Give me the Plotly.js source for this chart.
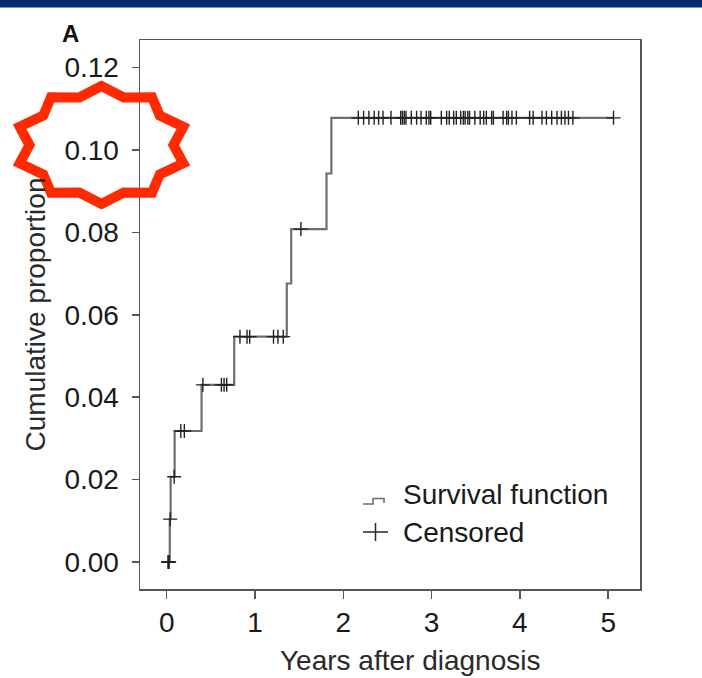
<!DOCTYPE html>
<html>
<head>
<meta charset="utf-8">
<script src="https://cdn.plot.ly/plotly-3.0.1.min.js"></script>
<style>
html,body{margin:0;padding:0;background:#fff;}
#chart{width:702px;height:678px;}
</style>
</head>
<body>
<div id="chart"></div>
<script>
// ---- data ----
var eventTimes = [0, 0.035, 0.045, 0.09, 0.395, 0.765, 1.36, 1.41, 1.81, 1.865, 5.06];
var cumProp    = [0, 0.0104, 0.0207, 0.0318, 0.043, 0.0547, 0.0676, 0.0808, 0.0943, 0.1078, 0.1078];
var censorTimes = [0.015, 0.022, 0.028, 0.04, 0.085, 0.16, 0.20,
  0.41, 0.62, 0.65, 0.68,
  0.83, 0.91, 0.94, 1.21, 1.26, 1.32,
  1.52,
  2.17, 2.23, 2.29, 2.35, 2.40, 2.45, 2.54, 2.65, 2.67, 2.69, 2.71, 2.77, 2.83, 2.88, 2.94, 2.97, 2.99,
  3.11, 3.17, 3.20, 3.25, 3.28, 3.33, 3.36, 3.38, 3.41, 3.43, 3.49, 3.55, 3.59, 3.62, 3.68, 3.70,
  3.81, 3.85, 3.87, 3.91, 3.96, 4.11, 4.15, 4.25, 4.30, 4.36, 4.42, 4.47, 4.51, 4.55, 4.60, 5.06];
var xTicks = [0, 1, 2, 3, 4, 5];
var yTicks = [0, 0.02, 0.04, 0.06, 0.08, 0.10, 0.12];
var legendLabels = ["Survival function", "Censored"];
var panelLabel = "A";
var xTitle = "Years after diagnosis";
var yTitle = "Cumulative proportion";

// censored marks sit on the step function
function stepValue(t){
  var v = cumProp[0];
  for (var i = 0; i < eventTimes.length; i++) { if (eventTimes[i] <= t) v = cumProp[i]; }
  return v;
}
var censorProps = censorTimes.map(stepValue);

// ---- geometry helpers (pixel -> paper) ----
var W = 702, H = 678, L = 140, R = 62, T = 40, B = 89;
var pw = W - L - R, ph = H - T - B;
function px(x){ return (x - L) / pw; }
function py(y){ return (H - B - y) / ph; }
function pathFrom(pts, close){
  var s = pts.map(function(p, i){ return (i ? 'L' : 'M') + px(p[0]).toFixed(4) + ',' + py(p[1]).toFixed(4); }).join(' ');
  return close ? s + ' Z' : s;
}

// star highlight around the 0.10 label
var starPts = [];
var cx = 101.5, cy = 145, rxo = 86, ryo = 59, rxi = 72, ryi = 50;
for (var k = 0; k < 20; k++) {
  var ang = Math.PI / 2 + k * Math.PI / 10;
  var outer = (k % 2 === 0);
  var rx = outer ? rxo : rxi, ry = outer ? ryo : ryi;
  starPts.push([cx + rx * Math.cos(ang), cy - ry * Math.sin(ang)]);
}

var fontFam = '"Liberation Sans", Arial, Helvetica, sans-serif';
var FS = 28;

var traces = [
  {
    x: eventTimes, y: cumProp, type: 'scatter', mode: 'lines',
    line: {shape: 'hv', color: '#6e6e6e', width: 2.2},
    name: legendLabels[0], showlegend: false, hoverinfo: 'skip'
  },
  {
    x: censorTimes, y: censorProps, type: 'scatter', mode: 'markers',
    marker: {symbol: 'cross-thin-open', size: 10, color: '#222', line: {color: '#222', width: 1.4}},
    name: legendLabels[1], showlegend: false, hoverinfo: 'skip'
  }
];

var layout = {
  width: W, height: H,
  margin: {l: L, r: R, t: T, b: B, pad: 0},
  paper_bgcolor: '#ffffff', plot_bgcolor: '#ffffff',
  showlegend: false,
  font: {family: fontFam, color: '#1a1a1a', size: FS},
  xaxis: {
    range: [-0.302, 5.36], tickvals: xTicks, ticktext: xTicks.map(String),
    showgrid: false, zeroline: false,
    showline: true, mirror: true, linecolor: '#555555', linewidth: 1.5,
    ticks: 'outside', ticklen: 8, tickwidth: 1.5, tickcolor: '#555555',
    tickfont: {size: FS, color: '#1a1a1a', family: fontFam}, ticklabelstandoff: 0
  },
  yaxis: {
    range: [-0.00655, 0.1267], tickvals: yTicks, ticktext: yTicks.map(function(v){ return v.toFixed(2); }),
    showgrid: false, zeroline: false,
    showline: true, mirror: true, linecolor: '#555555', linewidth: 1.5,
    ticks: 'outside', ticklen: 7, tickwidth: 1.5, tickcolor: '#555555',
    tickfont: {size: FS, color: '#1a1a1a', family: fontFam}, ticklabelstandoff: 7,
    title: {text: yTitle, font: {size: FS, color: '#2a2a2a', family: fontFam}, standoff: 10}
  },
  shapes: [
    // top dark band
    {type: 'rect', xref: 'paper', yref: 'paper', x0: px(0), x1: px(W), y0: py(0), y1: py(7.5),
     fillcolor: '#022a6e', line: {width: 0}, layer: 'above'},
    // star outline
    {type: 'path', xref: 'paper', yref: 'paper', path: pathFrom(starPts, true),
     line: {color: '#ff2a00', width: 10}, fillcolor: 'rgba(0,0,0,0)', layer: 'above'},
    // legend glyph: step
    {type: 'path', xref: 'paper', yref: 'paper',
     path: pathFrom([[363, 504], [373, 504], [373, 498.5], [384, 498.5], [384, 503]], false),
     line: {color: '#6e6e6e', width: 1.6}},
    // legend glyph: plus
    {type: 'line', xref: 'paper', yref: 'paper', x0: px(363), x1: px(388), y0: py(532), y1: py(532),
     line: {color: '#2a2a2a', width: 1.5}},
    {type: 'line', xref: 'paper', yref: 'paper', x0: px(375.5), x1: px(375.5), y0: py(523), y1: py(541),
     line: {color: '#2a2a2a', width: 1.5}}
  ],
  annotations: [
    {text: '<b>' + panelLabel + '</b>', xref: 'paper', yref: 'paper', x: px(70), y: py(33),
     xanchor: 'center', yanchor: 'middle', showarrow: false, font: {size: 24, color: '#111', family: fontFam}},
    {text: xTitle, xref: 'paper', yref: 'paper', x: px(410), y: py(660),
     xanchor: 'center', yanchor: 'middle', showarrow: false, font: {size: FS, color: '#2a2a2a', family: fontFam}},
    {text: legendLabels[0], xref: 'paper', yref: 'paper', x: px(401), y: py(494),
     xanchor: 'left', yanchor: 'middle', showarrow: false, font: {size: FS, color: '#1a1a1a', family: fontFam}},
    {text: legendLabels[1], xref: 'paper', yref: 'paper', x: px(401), y: py(532),
     xanchor: 'left', yanchor: 'middle', showarrow: false, font: {size: FS, color: '#1a1a1a', family: fontFam}}
  ]
};

Plotly.newPlot('chart', traces, layout, {displayModeBar: false, staticPlot: true});
</script>
</body>
</html>
